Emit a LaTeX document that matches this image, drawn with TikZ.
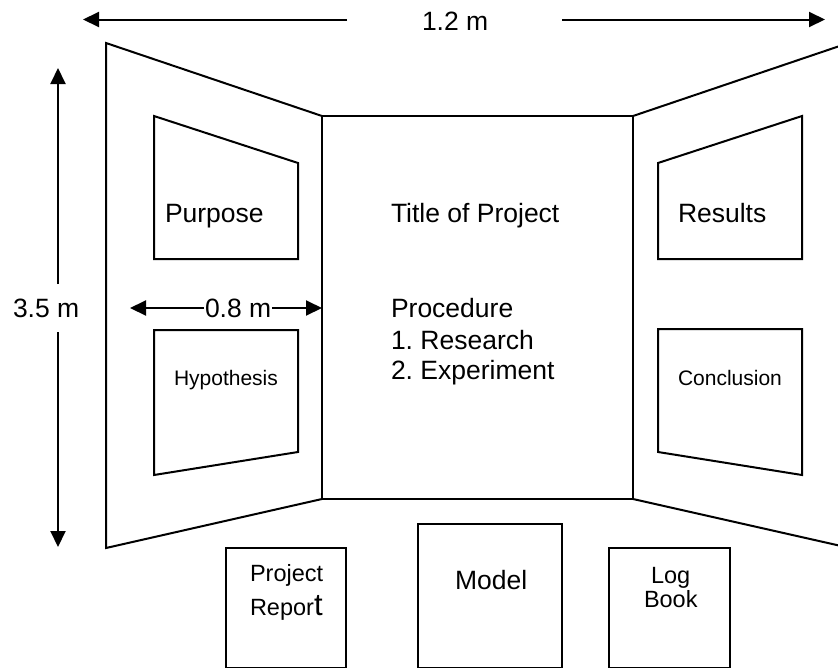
\documentclass[tikz,border=0pt]{standalone}
\usepackage{fontspec}
\setmainfont{Liberation Sans}
\usetikzlibrary{arrows.meta}
\frenchspacing
\begin{document}
\begin{tikzpicture}[x=1pt,y=-1pt,
  line width=2pt,
  panel/.style={draw=black,line width=2pt},
  dimarrow/.style={draw=black,line width=2pt,-{Triangle[length=16pt,width=15pt]}},
  bigtxt/.style={inner sep=0pt,anchor=base west,font=\fontsize{26.5}{31}\selectfont},
  midtxt/.style={inner sep=0pt,anchor=base west,font=\fontsize{23.5}{28}\selectfont},
  smalltxt/.style={inner sep=0pt,anchor=base west,font=\fontsize{21}{25}\selectfont}]
\useasboundingbox (0,0) rectangle (838,667);
\clip (0,0) rectangle (838,667);

% tri-fold board: left wing, centre panel, right wing
\draw[panel] (322,116) -- (106,43) -- (106,548) -- (322,499);
\draw[panel] (322,116) rectangle (633,499);
\draw[panel] (633,116) -- (850,42.5);
\draw[panel] (633,499) -- (850,548);

% cards pinned on the wings
\draw[panel] (154,116) -- (298,163) -- (298,259) -- (154,259) -- cycle;
\draw[panel] (154,330) -- (298,330) -- (298,452) -- (154,475) -- cycle;
\draw[panel] (802,116) -- (658,163) -- (658,259) -- (802,259) -- cycle;
\draw[panel] (658,329) -- (802,329) -- (802,475) -- (658,452) -- cycle;

% items on the table in front
\draw[panel] (226,548) rectangle (346,668);
\draw[panel] (418,524) rectangle (562,668);
\draw[panel] (609,548) rectangle (730,668);

% texts
\node[bigtxt] (purpose) at (164,222.5) {Purpose};
\node[bigtxt] (title) at (390,222.5) {Title of Project};
\node[bigtxt] (results) at (677,222.5) {Results};
\node[bigtxt] (proc) at (390,317) {Procedure};
\node[bigtxt] (res) at (390,349) {1. Research};
\node[bigtxt] (exp) at (390,379) {2. Experiment};
\node[smalltxt] (hyp) at (173,385) {Hypothesis};
\node[smalltxt] (concl) at (677,385) {Conclusion};
\node[midtxt] (projA) at (249,581) {Project};
\node[midtxt] (projB) at (249,615) {Repor\fontsize{31}{31}\selectfont t};
\node[bigtxt] (model) at (454,589) {Model};
\node[midtxt] (logA) at (650,583) {Log};
\node[midtxt] (logB) at (643,607) {Book};

% dimension labels and arrows
\node[bigtxt] (w12) at (421,30) {1.2 m};
\node[bigtxt] (h35) at (12,317) {3.5 m};
\node[bigtxt] (w08) at (204,317) {0.8 m};

\coordinate (wL0) at (347,19.5);
\coordinate (wL1) at (83,19.5);
\coordinate (wR0) at (562,19.5);
\coordinate (wR1) at (825,19.5);
\draw[dimarrow] (wL0) -- (wL1);
\draw[dimarrow] (wR0) -- (wR1);

\coordinate (hU0) at (58,284);
\coordinate (hU1) at (58,68);
\coordinate (hD0) at (58,332);
\coordinate (hD1) at (58,547);
\draw[dimarrow] (hU0) -- (hU1);
\draw[dimarrow] (hD0) -- (hD1);

\coordinate (dL) at (130,308);
\coordinate (dR) at (322,308);
\draw[dimarrow] (w08.west |- dL) -- (dL);
\draw[dimarrow] (w08.east |- dR) -- (dR);
\end{tikzpicture}
\end{document}
